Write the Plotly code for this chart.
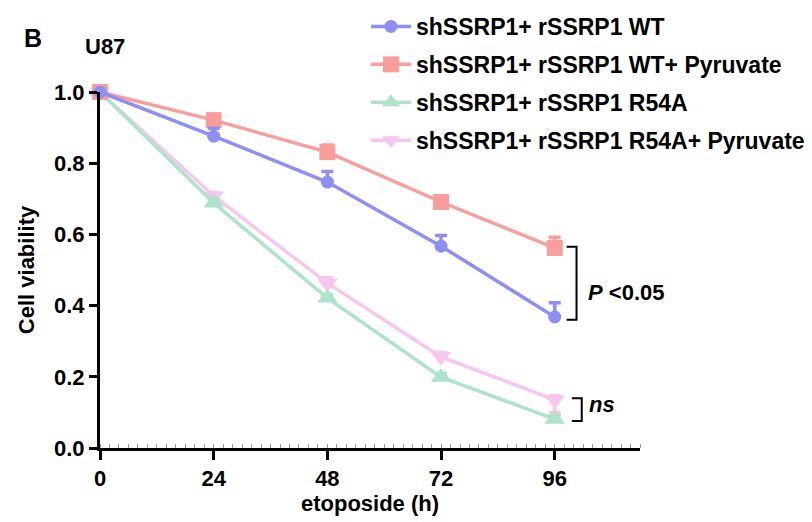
import plotly.graph_objects as go

hours = [0, 24, 48, 72, 96]
series_names = [
    "shSSRP1+ rSSRP1 WT",
    "shSSRP1+ rSSRP1 WT+ Pyruvate",
    "shSSRP1+ rSSRP1 R54A",
    "shSSRP1+ rSSRP1 R54A+ Pyruvate",
]
wt = [1.0, 0.876, 0.747, 0.567, 0.368]
wt_err = [0.0, 0.022, 0.030, 0.030, 0.040]
wt_pyr = [1.0, 0.921, 0.831, 0.691, 0.562]
wt_pyr_err = [0.0, 0.012, 0.020, 0.012, 0.030]
r54a = [1.0, 0.688, 0.421, 0.199, 0.081]
r54a_err = [0.0, 0.010, 0.010, 0.010, 0.010]
r54a_pyr = [1.0, 0.708, 0.463, 0.256, 0.135]
r54a_pyr_err = [0.0, 0.010, 0.015, 0.012, 0.012]
r54a_pyr_errminus = [0.0, 0.0, 0.0, 0.0, 0.035]

x_ticks = [0, 24, 48, 72, 96]
y_ticks = [0.0, 0.2, 0.4, 0.6, 0.8, 1.0]
y_ticklabels = ["0.0", "0.2", "0.4", "0.6", "0.8", "1.0"]

colors = ["#8e8ff6", "#f99d9d", "#ade3c8", "#f6c6ef"]
symbols = ["circle", "square", "triangle-up", "triangle-down"]
msizes = [13, 16, 18, 18]

FONT = "Liberation Sans, Arial, sans-serif"

# layout geometry (figure pixels; page is offset by the 8px body margin)
OFF = 8
W, H = 812, 522
L, T = 100 - OFF, 92 - OFF
PW, PH = 540, 356
R = W - L - PW
B = H - T - PH


def px_x(page_x):
    return (page_x - OFF - L) / PW


def px_y(page_y):
    return (T + PH - (page_y - OFF)) / PH


fig = go.Figure()
data = [(wt, wt_err, None), (wt_pyr, wt_pyr_err, None),
        (r54a, r54a_err, None), (r54a_pyr, r54a_pyr_err, r54a_pyr_errminus)]
for i in [3, 2, 1, 0]:
    y, e, em = data[i]
    ey = dict(type="data", array=e, arrayminus=em if em is not None else [0]*5,
              symmetric=False, color=colors[i], thickness=3.5, width=6)
    fig.add_trace(go.Scatter(
        x=hours, y=y, name=f"<b>{series_names[i]}</b>", mode="lines+markers",
        line=dict(color=colors[i], width=3.5),
        marker=dict(symbol=symbols[i], size=msizes[i], color=colors[i]),
        error_y=ey, cliponaxis=False, legendrank=i + 1,
        legendgroup=f"g{i}",
    ))

bracket_line = dict(color="black", width=2)
fig.add_shape(type="path", xref="x", yref="y",
              path="M 98.5 0.565 L 100.6 0.565 L 100.6 0.360 L 98.5 0.360",
              line=bracket_line)
fig.add_shape(type="path", xref="x", yref="y",
              path="M 99.6 0.140 L 101.7 0.140 L 101.7 0.076 L 99.6 0.076",
              line=bracket_line)

fig.add_annotation(x=102.6, y=0.438, xref="x", yref="y", text="<b><i>P</i> &lt;0.05</b>",
                   showarrow=False, xanchor="left", yanchor="middle",
                   font=dict(family=FONT, size=22, color="black"))
fig.add_annotation(x=102.8, y=0.121, xref="x", yref="y", text="<b><i>ns</i></b>",
                   showarrow=False, xanchor="left", yanchor="middle",
                   font=dict(family=FONT, size=22, color="black"))

fig.add_annotation(x=px_x(22), y=px_y(38), xref="paper", yref="paper", text="<b>B</b>",
                   showarrow=False, xanchor="left", yanchor="middle",
                   font=dict(family=FONT, size=25, color="black"))
fig.add_annotation(x=px_x(83), y=px_y(46), xref="paper", yref="paper", text="<b>U87</b>",
                   showarrow=False, xanchor="left", yanchor="middle",
                   font=dict(family=FONT, size=22, color="black"))

fig.update_layout(
    width=W, height=H,
    margin=dict(l=L, r=R, t=T, b=B, pad=0, autoexpand=False),
    plot_bgcolor="white", paper_bgcolor="white",
    font=dict(family=FONT, color="black"),
    showlegend=True,
    legend=dict(x=px_x(366), y=px_y(5), xanchor="left", yanchor="top",
                font=dict(family=FONT, size=23, color="black"),
                bgcolor="rgba(0,0,0,0)", tracegroupgap=5, itemwidth=40,
                traceorder="grouped"),
    xaxis=dict(range=[0, 114], tickvals=x_ticks, ticktext=[f"<b>{v}</b>" for v in x_ticks],
               showgrid=False, zeroline=False, showline=True, linecolor="black", linewidth=3,
               ticks="outside", ticklen=9, tickwidth=3, tickcolor="black",
               tickfont=dict(family=FONT, size=22),
               minor=dict(dtick=2, ticks="inside", ticklen=4, tickwidth=1, tickcolor="#999"),
               title=dict(text="<b>etoposide (h)</b>", font=dict(family=FONT, size=22), standoff=6),
               fixedrange=True),
    yaxis=dict(range=[0, 1.0], tickvals=y_ticks, ticktext=[f"<b>{t}</b>" for t in y_ticklabels],
               showgrid=False, zeroline=False, showline=True, linecolor="black", linewidth=3,
               ticks="outside", ticklen=8, tickwidth=3, tickcolor="black",
               tickfont=dict(family=FONT, size=22),
               title=dict(text="<b>Cell viability</b>", font=dict(family=FONT, size=22), standoff=14),
               fixedrange=True),
)

fig.write_html("out.html")
